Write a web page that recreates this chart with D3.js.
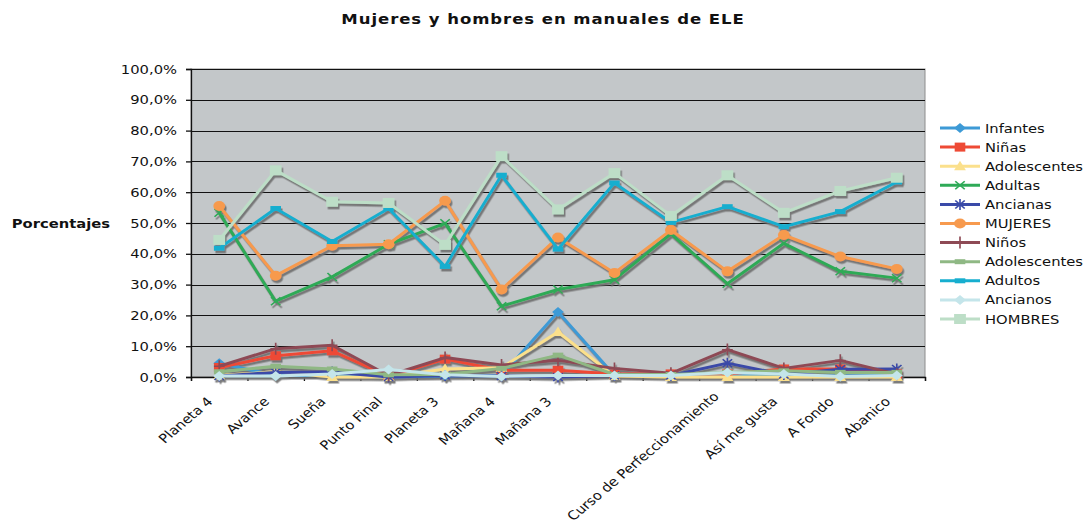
<!DOCTYPE html>
<html>
<head>
<meta charset="utf-8">
<script src="https://cdn.jsdelivr.net/npm/d3@7"></script>
<style>
  body { margin: 0; background: #fff; }
  text { font-family: "DejaVu Sans", Verdana, sans-serif; fill: #111; }
</style>
</head>
<body>
<script>
// categories (textbooks); two of them have no visible label in the original
var categories = ["Planeta 4", "Avance", "Sueña", "Punto Final", "Planeta 3", "Mañana 4", "Mañana 3",
    "", "", "Curso de Perfeccionamiento", "Así me gusta", "A Fondo", "Abanico"];

// series values, in percent
var infantes      = [4.5, 0.5, 0.5, 0.0, 0.3, 0.5, 21.1, 0.5, 0.3, 0.5, 0.3, 0.3, 0.5];
var ninas         = [3.1, 6.9, 8.5, 0.2, 5.8, 2.2, 2.2, 1.0, 1.0, 1.0, 2.6, 2.6, 1.0];
var adolescentesF = [0.5, 1.7, 0.0, 0.0, 2.6, 3.0, 14.6, 0.3, 0.0, 0.0, 0.0, 0.0, 0.0];
var adultas       = [53.3, 24.6, 32.5, 43.1, 49.9, 23.0, 28.4, 31.6, 46.5, 30.3, 43.4, 34.3, 32.1];
var ancianas      = [0.3, 1.5, 1.6, 0.0, 0.5, 0.3, 0.0, 0.5, 0.5, 4.5, 0.8, 2.5, 2.6];
var mujeres       = [55.5, 32.9, 42.6, 43.1, 57.2, 28.4, 45.3, 33.8, 47.7, 34.3, 46.1, 39.1, 35.1];
var ninos         = [3.5, 9.2, 10.3, 0.5, 6.3, 3.9, 5.4, 2.8, 1.2, 8.9, 2.8, 5.4, 0.9];
var adolescentesM = [1.7, 3.5, 2.6, 0.7, 0.8, 2.8, 7.1, 0.8, 0.8, 1.5, 2.0, 1.5, 1.5];
var adultos       = [41.8, 54.7, 44.0, 54.7, 35.9, 65.5, 41.5, 63.0, 50.2, 55.3, 48.8, 53.7, 63.3];
var ancianos      = [0.3, 0.3, 1.0, 2.4, 0.7, 0.2, 0.5, 0.5, 0.5, 1.5, 1.0, 0.2, 0.5];
var hombres       = [44.5, 67.1, 56.9, 56.5, 42.9, 71.7, 54.4, 66.2, 52.3, 65.5, 53.3, 60.4, 64.7];

var yTicks = [0, 10, 20, 30, 40, 50, 60, 70, 80, 90, 100];

// series table, drawn in this order (last one on top)
var series = [
    {name: "Infantes",     values: infantes,      color: "#3d9ad6", marker: "diamond"},
    {name: "Niñas",        values: ninas,         color: "#ee4a35", marker: "square"},
    {name: "Adolescentes", values: adolescentesF, color: "#fbe08c", marker: "triangle"},
    {name: "Adultas",      values: adultas,       color: "#2eaa57", marker: "x"},
    {name: "Ancianas",     values: ancianas,      color: "#3a4aa8", marker: "star"},
    {name: "MUJERES",      values: mujeres,       color: "#f79a4e", marker: "circle"},
    {name: "Niños",        values: ninos,         color: "#8e4a55", marker: "plus"},
    {name: "Adolescentes", values: adolescentesM, color: "#8fb884", marker: "dash"},
    {name: "Adultos",      values: adultos,       color: "#16aecf", marker: "dash"},
    {name: "Ancianos",     values: ancianos,      color: "#c4e5ea", marker: "diamond"},
    {name: "HOMBRES",      values: hombres,       color: "#bddec7", marker: "bigsquare"}
];

var width = 1088, height = 529;
var margin = {left: 191, right: 163, top: 69, bottom: 152};
var SX = 1.18;   // the original picture is stretched horizontally

var svg = d3.select("body").append("svg")
    .attr("width", width).attr("height", height);

// drop shadow under the lines, like the spreadsheet chart
var filter = svg.append("defs").append("filter")
    .attr("id", "shadow")
    .attr("filterUnits", "userSpaceOnUse")
    .attr("x", 0).attr("y", 0).attr("width", width).attr("height", height);
filter.append("feDropShadow")
    .attr("dx", 1.5).attr("dy", 2.5).attr("stdDeviation", 0.5)
    .attr("flood-color", "#6e6e6e").attr("flood-opacity", 0.9);

var x = d3.scaleBand()
    .domain(d3.range(categories.length))
    .range([margin.left, width - margin.right]);
var xEdge = d3.scaleLinear()
    .domain([0, categories.length])
    .range([margin.left, width - margin.right]);
var y = d3.scaleLinear()
    .domain([0, 100])
    .range([height - margin.bottom, margin.top]);

function xc(i) { return x(i) + x.bandwidth() / 2; }

// plot background
svg.append("rect")
    .attr("x", margin.left).attr("y", margin.top)
    .attr("width", width - margin.right - margin.left)
    .attr("height", height - margin.bottom - margin.top)
    .attr("fill", "#c3c7c9")
    .attr("stroke", "#8c8c8c");

// gridlines
svg.append("g")
    .selectAll("line")
    .data(yTicks.slice(1))
    .enter().append("line")
    .attr("x1", margin.left).attr("x2", width - margin.right)
    .attr("y1", function(d) { return Math.round(y(d)) + 0.5; })
    .attr("y2", function(d) { return Math.round(y(d)) + 0.5; })
    .attr("stroke", "#111").attr("stroke-width", 1.2);

// y axis
var yAxis = svg.append("g")
    .attr("transform", "translate(" + margin.left + ",0)")
    .call(d3.axisLeft(y)
        .tickValues(yTicks)
        .tickSize(5)
        .tickFormat(function(d) { return d3.format(".1f")(d).replace(".", ",") + "%"; }));
yAxis.select(".domain").attr("stroke", "#111").attr("stroke-width", 1.3);
yAxis.selectAll(".tick line").attr("stroke", "#111").attr("stroke-width", 1.3);
yAxis.selectAll(".tick text")
    .attr("x", -14 / SX)
    .attr("transform", "scale(" + SX + ",1)")
    .attr("font-size", 12.5)
    .attr("font-family", null)
    .attr("fill", "#111");

// x axis, ticks between categories
var xAxis = svg.append("g")
    .attr("transform", "translate(0," + (height - margin.bottom) + ")")
    .call(d3.axisBottom(xEdge)
        .tickValues(d3.range(categories.length + 1))
        .tickSize(4)
        .tickFormat(""));
xAxis.select(".domain").attr("stroke", "#111").attr("stroke-width", 1.3);
xAxis.selectAll(".tick line").attr("stroke", "#111").attr("stroke-width", 1.3);

// rotated category labels
svg.append("g")
    .selectAll("text")
    .data(categories)
    .enter().append("text")
    .attr("transform", function(d, i) {
        var tx = xc(i) - 13, ty = height - margin.bottom + 19;
        // the long label must still fit above the bottom edge
        if (d.length > 20) { tx -= 2; ty -= 5; }
        return "translate(" + tx + "," + ty + ") scale(" + SX + ",1) rotate(-45)";
    })
    .attr("text-anchor", "end")
    .attr("dy", "0.72em")
    .attr("font-size", 12.5)
    .text(function(d) { return d; });

// marker shapes
function drawMarker(sel, type, color) {
    if (type === "diamond") {
        sel.append("path").attr("d", "M0,-5L5,0L0,5L-5,0Z").attr("fill", color);
    } else if (type === "square") {
        sel.append("rect").attr("x", -4.5).attr("y", -4.5).attr("width", 9).attr("height", 9).attr("fill", color);
    } else if (type === "bigsquare") {
        sel.append("rect").attr("x", -5).attr("y", -5).attr("width", 10).attr("height", 10).attr("fill", color);
    } else if (type === "triangle") {
        sel.append("path").attr("d", "M0,-5.5L5,4L-5,4Z").attr("fill", color);
    } else if (type === "x") {
        sel.append("path").attr("d", "M-4,-4L4,4M-4,4L4,-4").attr("stroke", color).attr("stroke-width", 1.4);
    } else if (type === "star") {
        sel.append("path").attr("d", "M-4,-4L4,4M-4,4L4,-4M0,-5.5V5.5").attr("stroke", color).attr("stroke-width", 1.4);
    } else if (type === "circle") {
        sel.append("circle").attr("r", 5).attr("fill", color);
    } else if (type === "plus") {
        sel.append("path").attr("d", "M-4.5,0H4.5M0,-6V6").attr("stroke", color).attr("stroke-width", 1.4);
    } else if (type === "dash") {
        sel.append("rect").attr("x", -4.5).attr("y", -2.5).attr("width", 9).attr("height", 5).attr("fill", color);
    }
}

var line = d3.line()
    .x(function(d, i) { return xc(i); })
    .y(function(d) { return y(d); });

// draw the series
var plotG = svg.append("g").attr("filter", "url(#shadow)");
series.forEach(function(s) {
    var g = plotG.append("g");
    g.append("path")
        .datum(s.values)
        .attr("d", line)
        .attr("fill", "none")
        .attr("stroke", s.color)
        .attr("stroke-width", 3)
        .attr("stroke-linejoin", "round");
    g.selectAll(".pt")
        .data(s.values)
        .enter().append("g")
        .attr("class", "pt")
        .attr("transform", function(d, i) {
            return "translate(" + xc(i) + "," + y(d) + ") scale(" + SX + ",1)";
        })
        .each(function() { drawMarker(d3.select(this), s.marker, s.color); });
});

// legend
var legend = svg.append("g")
    .selectAll("g")
    .data(series)
    .enter().append("g")
    .attr("transform", function(d, i) { return "translate(940," + (128 + i * 19.1) + ")"; });
legend.append("line")
    .attr("x1", 0).attr("x2", 40)
    .attr("stroke", function(d) { return d.color; })
    .attr("stroke-width", 3);
legend.append("g")
    .attr("transform", "translate(20,0) scale(" + SX + ",1)")
    .each(function(d) { drawMarker(d3.select(this), d.marker, d.color); });
legend.append("text")
    .attr("transform", "translate(45,0) scale(" + SX + ",1)")
    .attr("dy", "0.36em")
    .attr("font-size", 12.5)
    .text(function(d) { return d.name; });

// title
svg.append("text")
    .attr("transform", "translate(543,19) scale(" + SX + ",1)")
    .attr("text-anchor", "middle")
    .attr("dy", "0.36em")
    .attr("font-size", 14)
    .attr("letter-spacing", 0.8)
    .attr("font-weight", "bold")
    .text("Mujeres y hombres en manuales de ELE");

// y axis title
svg.append("text")
    .attr("transform", "translate(110,223) scale(" + SX + ",1)")
    .attr("text-anchor", "end")
    .attr("dy", "0.36em")
    .attr("font-size", 12.5)
    .attr("font-weight", "bold")
    .text("Porcentajes");
</script>
</body>
</html>
